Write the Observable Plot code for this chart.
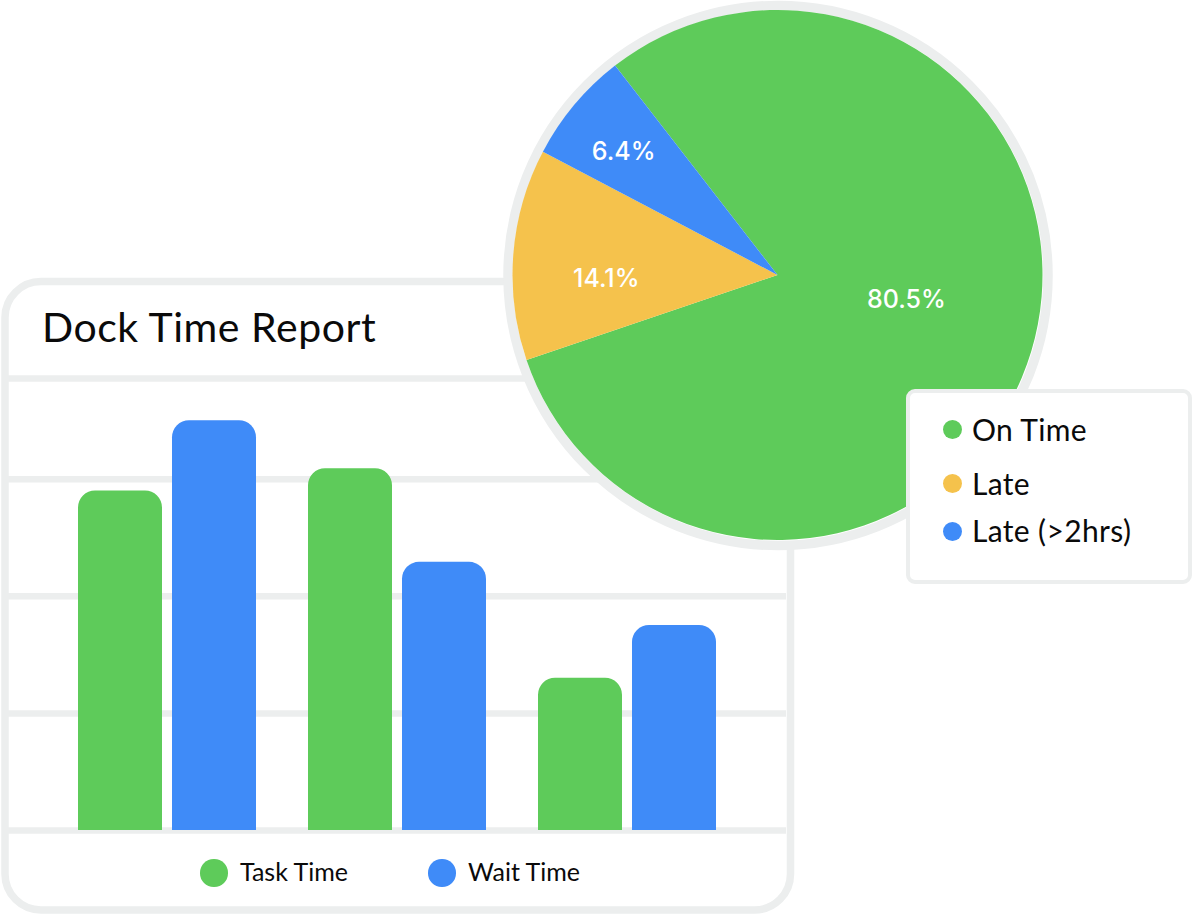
<!DOCTYPE html>
<html>
<head>
<meta charset="utf-8">
<script src="https://cdn.jsdelivr.net/npm/d3@7"></script>
<script src="https://cdn.jsdelivr.net/npm/@observablehq/plot@0.6"></script>
<style>
  html, body { margin: 0; padding: 0; background: #fff; }
  #stage { position: relative; width: 1193px; height: 914px; overflow: hidden; font-family: Lato, sans-serif; color: #0a0a0a; }
  #stage svg { position: absolute; background: transparent; }
  .abs { position: absolute; white-space: nowrap; }
  #title { left: 42px; top: 302px; font-size: 41px; line-height: 50px; letter-spacing: 0.55px; }
  .bar-key { font-size: 25px; line-height: 30px; top: 856px; }
  .dot { position: absolute; border-radius: 50%; }
  #pieKey { left: 906px; top: 389px; width: 278px; height: 187px; border: 4px solid #eceeee; border-radius: 9px; background: #fff; }
  .pie-key { font-size: 30px; line-height: 34px; left: 972px; letter-spacing: 0.35px; }
</style>
</head>
<body>
<div id="stage"></div>
<script>
// Bar chart data
const groups = ["Group 1", "Group 2", "Group 3"];
const barSeries = ["Task Time", "Wait Time"];
const taskTime = [29, 30.9, 13];
const waitTime = [35, 22.9, 17.5];
const gridValues = [0, 10, 20, 30, 38.6];

const pieStatus = ["On Time", "Late", "Late (>2hrs)"];
const pieShares = [80.3, 12.9, 6.8];
const pieLabels = ["80.5%", "14.1%", "6.4%"];

const GREEN = "#5ecb5a", BLUE = "#3f8bf8", YELLOW = "#f5c24c", LINE = "#eceeee";
const stage = document.getElementById("stage");
const yDomain = [0, 38.6];

// Card outline and grid
const cardPlot = Plot.plot({
  width: 796, height: 914,
  marginLeft: 8, marginRight: 10, marginTop: 378, marginBottom: 84,
  x: {axis: null},
  y: {domain: yDomain, axis: null, label: null},
  marks: [
    Plot.frame({stroke: LINE, strokeWidth: 7.5, fill: "none", rx: 36,
      insetLeft: -3.5, insetRight: -4, insetTop: -97, insetBottom: -79.5}),
    Plot.ruleY(gridValues, {stroke: LINE, strokeWidth: 6.5})
  ]
});
cardPlot.style.left = "0"; cardPlot.style.top = "0";
stage.append(cardPlot);

// Grouped bars
const barRows = groups.flatMap((g, i) => [
  {group: g, series: barSeries[0], value: taskTime[i]},
  {group: g, series: barSeries[1], value: waitTime[i]}
]);
const barPlot = Plot.plot({
  width: 796, height: 914,
  marginLeft: 78, marginRight: 80, marginTop: 378, marginBottom: 84,
  fx: {domain: groups, paddingInner: 52 / 230, paddingOuter: 0, axis: null, label: null},
  x: {domain: barSeries, paddingInner: 10 / 94, paddingOuter: 0, axis: null, label: null},
  y: {domain: yDomain, axis: null, label: null},
  color: {domain: barSeries, range: [GREEN, BLUE]},
  marks: [
    Plot.barY(barRows, {fx: "group", x: "series", y: "value", fill: "series", ry1: 17})
  ]
});
barPlot.style.left = "0"; barPlot.style.top = "0";
stage.append(barPlot);

// Pie
const pieStart = -37.8 * Math.PI / 180;
const arcs = d3.pie().sort(null).startAngle(pieStart).endAngle(pieStart + 2 * Math.PI)(pieShares);
const sliceFill = d3.scaleOrdinal(pieStatus, [GREEN, YELLOW, BLUE]);
const PIE_R = 265;
const labelReach = [0.49, 0.65, 0.75];
const labelNudge = [[4, -13], [0, 17], [-2, 4]];
const labelPoint = i => {
  const mid = (arcs[i].startAngle + arcs[i].endAngle) / 2;
  const r = labelReach[i] * PIE_R;
  return {x: r * Math.sin(mid), y: -r * Math.cos(mid), label: pieLabels[i]};
};
function wedges(index, {x, y}) {
  const g = d3.create("svg:g").attr("transform", `translate(${x(0)},${y(0)})`);
  const R = x(PIE_R) - x(0);
  const arc = d3.arc().innerRadius(0).outerRadius(R);
  arcs.forEach((a, i) => g.append("path").attr("d", arc(a)).attr("fill", sliceFill(pieStatus[i])));
  return g.node();
}
const piePlot = Plot.plot({
  width: 552, height: 552, margin: 0,
  x: {domain: [-275.5, 276.5], axis: null, label: null},
  y: {domain: [-275, 277], range: [0, 552], axis: null, label: null},
  marks: [
    Plot.dot([0], {x: () => 0, y: () => 0, r: 270, fill: "#fff", stroke: LINE, strokeWidth: 9.5}),
    wedges,
    ...pieLabels.map((_, i) => Plot.text([labelPoint(i)], {
      x: "x", y: "y", text: "label", dx: labelNudge[i][0], dy: labelNudge[i][1],
      fill: "#fff", fontSize: 25, fontWeight: 500, fontFamily: "Inter, sans-serif", textAnchor: "middle"
    }))
  ]
});
piePlot.style.left = "502px"; piePlot.style.top = "0";
stage.append(piePlot);

// HTML title and legends
function addText(cls, id, text, css) {
  const el = document.createElement("div");
  el.className = "abs " + cls;
  if (id) el.id = id;
  el.textContent = text;
  Object.assign(el.style, css || {});
  stage.append(el);
}
function addDot(cx, cy, r, color) {
  const el = document.createElement("div");
  el.className = "dot";
  Object.assign(el.style, {left: (cx - r) + "px", top: (cy - r) + "px", width: 2 * r + "px", height: 2 * r + "px", background: color});
  stage.append(el);
}
addText("", "title", "Dock Time Report");
const barKeyX = [214, 442];
barSeries.forEach((s, i) => {
  addDot(barKeyX[i], 873, 13.7, [GREEN, BLUE][i]);
  addText("bar-key", null, s, {left: (barKeyX[i] + 26) + "px"});
});
addText("", "pieKey", "");
const pieKeyY = [429.5, 483.5, 531];
pieStatus.forEach((s, i) => {
  addDot(952, pieKeyY[i], 9.5, sliceFill(s));
  addText("pie-key", null, s, {top: (pieKeyY[i] - 18) + "px"});
});
</script>
</body>
</html>
